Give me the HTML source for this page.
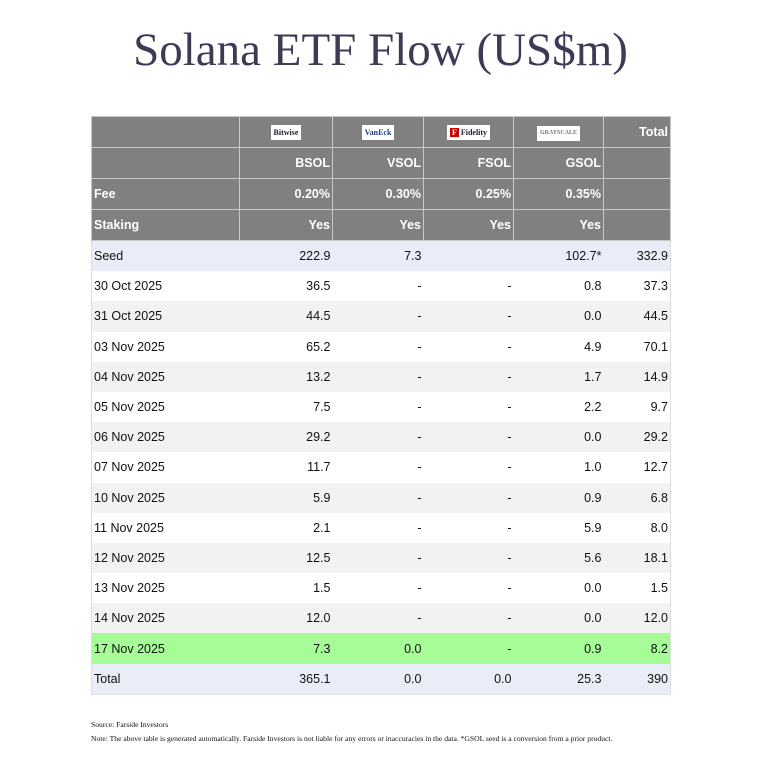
<!DOCTYPE html>
<html><head><meta charset="utf-8"><style>
body{margin:0;width:761px;height:774px;background:#fff;position:relative;font-family:"Liberation Sans",sans-serif;}
h1{position:absolute;top:22px;left:0;width:761px;text-align:center;margin:0;font:47px "Liberation Serif",serif;color:#3b3b55;line-height:56px;}
table{position:absolute;left:91px;top:116px;border-collapse:collapse;table-layout:fixed;font-size:12.5px;}
td{padding:0 2px;text-align:right;white-space:nowrap;overflow:hidden;}
td:first-child{text-align:left;}
tr.h td{background:#808080;color:#fff;font-weight:bold;border:1px solid #c8c8c8;height:30px;}
tr.d td{height:30.2px;color:#111;padding:0 2px;}
tr.d:nth-child(odd) td{background:#f2f2f2;}
tr.d:nth-child(even) td{background:#fff;}
tr.s td{background:#e9edf8 !important;}
tr.g td{background:#a6fc96 !important;}
.logo{display:inline-block;background:#fff;height:15px;line-height:15px;font-size:8px;color:#223;font-family:"Liberation Serif",serif;padding:0 3px;}
.n{position:absolute;left:91px;font:7.6px "Liberation Serif",serif;color:#111;white-space:nowrap;}
</style></head><body>
<h1>Solana ETF Flow (US$m)</h1>
<table style="border:1px solid #ddd">
<colgroup><col style="width:148px"><col style="width:93px"><col style="width:91px"><col style="width:90px"><col style="width:90px"><col style="width:67px"></colgroup>
<tr class="h"><td></td><td style="text-align:center"><span class="logo">Bitwise</span></td><td style="text-align:center"><span class="logo" style="color:#1a3a8a;font-weight:bold">VanEck</span></td><td style="text-align:center"><span class="logo"><b style="background:#c00;color:#fff;padding:0 2px">F</b> Fidelity</span></td><td style="text-align:center"><span class="logo" style="font-size:6px;color:#777">GRAYSCALE</span></td><td>Total</td></tr>
<tr class="h"><td></td><td>BSOL</td><td>VSOL</td><td>FSOL</td><td>GSOL</td><td></td></tr>
<tr class="h"><td>Fee</td><td>0.20%</td><td>0.30%</td><td>0.25%</td><td>0.35%</td><td></td></tr>
<tr class="h"><td>Staking</td><td>Yes</td><td>Yes</td><td>Yes</td><td>Yes</td><td></td></tr>
<tr class="d s"><td>Seed</td><td>222.9</td><td>7.3</td><td></td><td>102.7*</td><td>332.9</td></tr>
<tr class="d"><td>30 Oct 2025</td><td>36.5</td><td>-</td><td>-</td><td>0.8</td><td>37.3</td></tr>
<tr class="d"><td>31 Oct 2025</td><td>44.5</td><td>-</td><td>-</td><td>0.0</td><td>44.5</td></tr>
<tr class="d"><td>03 Nov 2025</td><td>65.2</td><td>-</td><td>-</td><td>4.9</td><td>70.1</td></tr>
<tr class="d"><td>04 Nov 2025</td><td>13.2</td><td>-</td><td>-</td><td>1.7</td><td>14.9</td></tr>
<tr class="d"><td>05 Nov 2025</td><td>7.5</td><td>-</td><td>-</td><td>2.2</td><td>9.7</td></tr>
<tr class="d"><td>06 Nov 2025</td><td>29.2</td><td>-</td><td>-</td><td>0.0</td><td>29.2</td></tr>
<tr class="d"><td>07 Nov 2025</td><td>11.7</td><td>-</td><td>-</td><td>1.0</td><td>12.7</td></tr>
<tr class="d"><td>10 Nov 2025</td><td>5.9</td><td>-</td><td>-</td><td>0.9</td><td>6.8</td></tr>
<tr class="d"><td>11 Nov 2025</td><td>2.1</td><td>-</td><td>-</td><td>5.9</td><td>8.0</td></tr>
<tr class="d"><td>12 Nov 2025</td><td>12.5</td><td>-</td><td>-</td><td>5.6</td><td>18.1</td></tr>
<tr class="d"><td>13 Nov 2025</td><td>1.5</td><td>-</td><td>-</td><td>0.0</td><td>1.5</td></tr>
<tr class="d"><td>14 Nov 2025</td><td>12.0</td><td>-</td><td>-</td><td>0.0</td><td>12.0</td></tr>
<tr class="d g"><td>17 Nov 2025</td><td>7.3</td><td>0.0</td><td>-</td><td>0.9</td><td>8.2</td></tr>
<tr class="d s"><td>Total</td><td>365.1</td><td>0.0</td><td>0.0</td><td>25.3</td><td>390</td></tr>
</table>
<div class="n" style="top:720px">Source: Farside Investors</div>
<div class="n" style="top:734px">Note: The above table is generated automatically. Farside Investors is not liable for any errors or inaccuracies in the data. *GSOL seed is a conversion from a prior product.</div>
</body></html>
